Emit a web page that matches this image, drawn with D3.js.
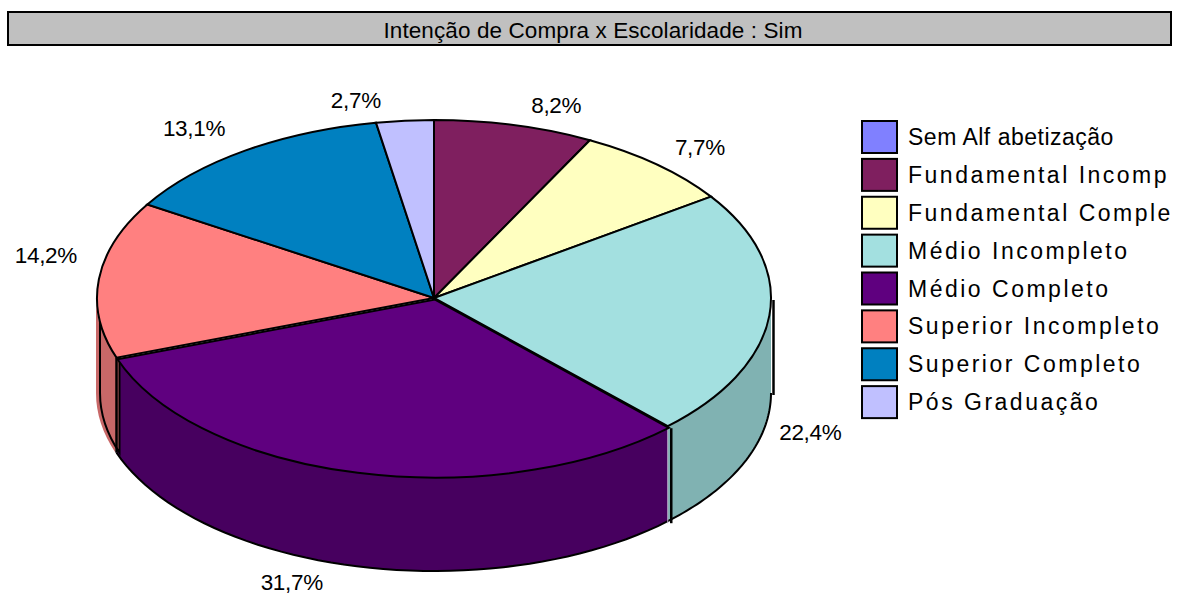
<!DOCTYPE html>
<html>
<head>
<meta charset="utf-8">
<script src="https://cdn.jsdelivr.net/npm/d3@7/dist/d3.min.js"></script>
<style>
  html, body { margin: 0; background: #fff; overflow: hidden; }
  text { font-family: "Liberation Sans", Arial, sans-serif; fill: #000; }
</style>
</head>
<body>
<div id="chart"></div>
<script>
let titleText = "Intenção de Compra x Escolaridade : Sim";
let categories = ["Sem Alf abetização", "Fundamental Incomp", "Fundamental Comple", "Médio Incompleto", "Médio Completo", "Superior Incompleto", "Superior Completo", "Pós Graduação"];
let values = [0, 8.2, 7.7, 22.4, 31.7, 14.2, 13.1, 2.7];
let colors = ["#8080ff", "#7f1f5f", "#ffffc0", "#a3e0e0", "#5f007f", "#ff8080", "#0080c0", "#c0c0ff"];
let wallColors = ["#6060c0", "#5f1747", "#c0c090", "#80b2b2", "#47005f", "#c86868", "#006090", "#9090c0"];

let w = 1177;
let h = 593;
let cx = 434;
let cy = 298;
let rx = 337;
let ry = 178;
let depth = 95;
let TEAL = 3, PURPLE = 4, PINK = 5;

let svg = d3.select("#chart").append("svg")
  .attr("width", w)
  .attr("height", h)
  .style("display", "block");

// title bar
svg.append("rect").attr("x", 8).attr("y", 12).attr("width", 1163).attr("height", 33)
  .attr("fill", "#c0c0c0").attr("stroke", "#000").attr("stroke-width", 2);
svg.append("text").attr("x", 593).attr("y", 38).attr("text-anchor", "middle")
  .attr("font-size", 22.5).attr("letter-spacing", 0.1).text(titleText);

// the 3D view pulls the rim a little away from the true pie angles
let deg = Math.PI / 180;
let rimAngle = d3.scaleLinear()
  .domain([0, 30, 300, 350, 360].map(d => d * deg))
  .range([0, 28, 298.5, 349.8, 360].map(d => d * deg));

let pieData = d3.pie().sort(null).value(d => d)(values)
  .map((d, i) => {
    let a0 = rimAngle(d.startAngle);
    let a1 = rimAngle(d.endAngle);
    return { value: d.value, i: i, startAngle: a0, endAngle: a1, mid: (a0 + a1) / 2 };
  });

function px(a) { return cx + rx * Math.sin(a); }
function py(a) { return cy - ry * Math.cos(a); }

// side walls, only the part facing the viewer (90deg to 270deg)
function wallPath(d) {
  let a0 = Math.max(d.startAngle, Math.PI / 2);
  let a1 = Math.min(d.endAngle, Math.PI * 1.5);
  if (a1 <= a0) return null;
  return "M" + px(a0) + "," + py(a0)
    + "A" + rx + "," + ry + " 0 0 1 " + px(a1) + "," + py(a1)
    + "L" + px(a1) + "," + (py(a1) + depth)
    + "A" + rx + "," + ry + " 0 0 0 " + px(a0) + "," + (py(a0) + depth)
    + "Z";
}

// bottom rim between two angles
function baseLine(a0, a1) {
  let pts = d3.range(0, 1.001, 0.02).map(t => {
    let a = a0 + t * (a1 - a0);
    return [px(a), py(a) + depth];
  });
  return d3.line()(pts);
}

let visibleWalls = pieData.filter(d => wallPath(d));
let walls = svg.append("g");
walls.selectAll(".wallFill").data(visibleWalls).enter()
  .append("path")
    .attr("class", "wallFill")
    .attr("d", wallPath)
    .attr("fill", d => wallColors[d.i])
    .attr("transform", d => d.i == PINK ? "translate(-1,0)" : null);

// the outlines do not sit exactly on the fills in the original
let pinkWall = pieData[PINK];
walls.append("path")
  .attr("d", wallPath(pinkWall))
  .attr("transform", "translate(3,0)")
  .attr("fill", wallColors[PINK])
  .attr("stroke", "#000")
  .attr("stroke-width", 2);

let tealWall = pieData[TEAL];
let purpleWall = pieData[PURPLE];
walls.append("path")
  .attr("d", baseLine(Math.PI / 2, tealWall.endAngle))
  .attr("fill", "none").attr("stroke", "#000").attr("stroke-width", 2);
walls.append("path")
  .attr("d", baseLine(purpleWall.startAngle, purpleWall.endAngle))
  .attr("fill", "none").attr("stroke", "#000").attr("stroke-width", 2);

let wallEdges = [
  { x: px(Math.PI / 2) + 2.5, y: py(Math.PI / 2) + 2, color: "#000", width: 2.5 },
  { x: px(tealWall.endAngle) + 3.5, y: py(tealWall.endAngle) + 2, color: "#000", width: 2.5 },
  { x: px(purpleWall.startAngle), y: py(purpleWall.startAngle) + 2, color: "#b8a8c8", width: 1 },
  { x: px(purpleWall.endAngle), y: py(purpleWall.endAngle), color: "#000", width: 2.5 }
];
walls.selectAll(".edge").data(wallEdges).enter()
  .append("line")
    .attr("class", "edge")
    .attr("x1", d => d.x).attr("x2", d => d.x)
    .attr("y1", d => d.y).attr("y2", d => d.y + depth)
    .attr("stroke", d => d.color)
    .attr("stroke-width", d => d.width);

// top face: arcs on a circle, squashed to the ellipse
let arc = d3.arc().innerRadius(0).outerRadius(rx);
let tops = svg.append("g")
  .attr("transform", "translate(" + cx + "," + cy + ") scale(1," + (ry / rx) + ")");
tops.selectAll("path").data(pieData.filter(d => d.value > 0)).enter()
  .append("path")
    .attr("d", arc)
    .attr("fill", d => colors[d.i])
    .attr("stroke", "#000")
    .attr("stroke-width", 2)
    .attr("vector-effect", "non-scaling-stroke")
    .attr("transform", d => d.i == PURPLE ? "translate(1,3)" : null);

// percent labels, pushed out from the rim and nudged like the original
let labelNudge = { 1: [42, -18], 2: [43, -15], 3: [41, 118], 4: [-65, 113], 5: [-53, -22], 6: [-51, -21], 7: [-49, -19] };
svg.append("g").selectAll("text").data(pieData.filter(d => d.value > 0)).enter()
  .append("text")
    .attr("x", d => px(d.mid) + labelNudge[d.i][0])
    .attr("y", d => py(d.mid) + labelNudge[d.i][1])
    .attr("text-anchor", "middle")
    .attr("dominant-baseline", "middle")
    .attr("font-size", 22.5)
    .attr("letter-spacing", -0.3)
    .text(d => d.value.toFixed(1).replace(".", ",") + "%");

// legend
let legendY = d3.scaleBand().domain(categories).range([120, 423]);
let legend = svg.append("g").selectAll("g").data(categories).enter().append("g")
  .attr("transform", d => "translate(862," + legendY(d) + ")");
legend.append("rect")
  .attr("y", 1).attr("width", 35).attr("height", 32)
  .attr("fill", (d, i) => colors[i])
  .attr("stroke", "#000").attr("stroke-width", 2);
legend.append("text")
  .attr("x", 46).attr("y", 25)
  .attr("font-size", 23)
  .attr("letter-spacing", (d, i) => i == 0 ? 0.5 : 2.5)
  .text(d => d);
</script>
</body>
</html>
